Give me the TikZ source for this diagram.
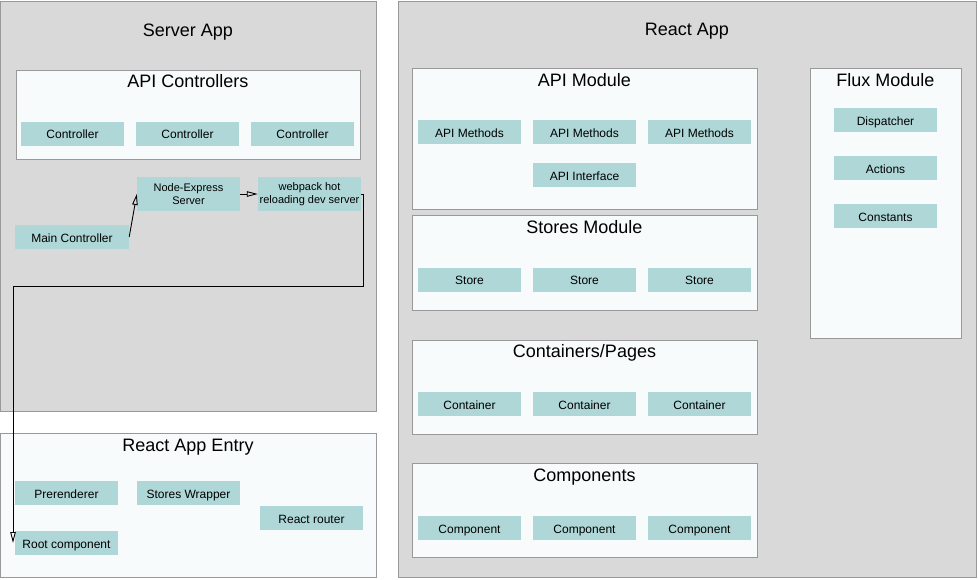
\documentclass[tikz,border=0pt]{standalone}
\usepackage{fontspec}
\setmainfont{Liberation Sans}
\usetikzlibrary{arrows.meta}
\definecolor{panelgray}{HTML}{D9D9D9}
\definecolor{panelline}{HTML}{999999}
\definecolor{modfill}{HTML}{F7FBFB}
\definecolor{itemfill}{HTML}{AFD7D7}
\tikzset{
  panel/.style={draw=panelline, line width=1pt, fill=panelgray},
  module/.style={draw=panelline, line width=1pt, fill=modfill},
  % titles are placed by their baseline
  ttl/.style={font=\fontsize{18}{20}\selectfont, inner sep=0pt, anchor=base},
  boxbase/.style={fill=itemfill, draw=none, minimum width=103,
    inner sep=1pt, align=center},
  item/.style={boxbase, minimum height=24, text height=10pt, text depth=0pt,
    font=\fontsize{12}{14}\selectfont},
  smallitem/.style={boxbase, minimum height=34, font=\fontsize{11}{12.5}\selectfont},
  arr/.style={draw=black, line width=0.9pt,
    -{Triangle[open, length=11pt, width=5.5pt]}},
}
\begin{document}
\begin{tikzpicture}[x=1pt, y=-1pt]
\useasboundingbox (0,0) rectangle (978,579);

% ---------- Server side ----------
\path[panel] (0.5,1) rectangle (376,411);
\node[ttl] (serverT) at (188,36) {Server App};

\path[module] (16,70) rectangle (360,159);
\node[ttl] (apictlT) at (188,87) {API Controllers};
\node[item] (ctl1) at (72.5,133.5) {Controller};
\node[item] (ctl2) at (187.5,133.5) {Controller};
\node[item] (ctl3) at (302.5,133.5) {Controller};

\node[smallitem] (ne)  at (188.5,194) {Node-Express\\Server};
\node[smallitem] (web) at (309.5,194) {webpack hot\\reloading dev server};
\node[item, minimum width=114] (main) at (72,237) {Main Controller};

% ---------- React app entry ----------
\path[module] (0.5,433) rectangle (376,577);
\node[ttl] (entryT) at (188,451.5) {React App Entry};
\node[item] (pre)    at (66.5,493)  {Prerenderer};
\node[item] (sw)     at (188.5,493) {Stores Wrapper};
\node[item] (router) at (311.5,518) {React router};
\node[item] (root)   at (66.5,543)  {Root component};

% ---------- React app ----------
\path[panel] (398,1) rectangle (976,577);
\node[ttl] (reactT) at (687,35.5) {React App};

\path[module] (412,68) rectangle (757,209);
\node[ttl] (apimT) at (584.5,86.5) {API Module};
\node[item] (am1) at (469.5,132) {API Methods};
\node[item] (am2) at (584.5,132) {API Methods};
\node[item] (am3) at (699.5,132) {API Methods};
\node[item] (ai)  at (584.5,175) {API Interface};

\path[module] (412,215) rectangle (757,310);
\node[ttl] (storesT) at (584.5,233.5) {Stores Module};
\node[item] (st1) at (469.5,279.5) {Store};
\node[item] (st2) at (584.5,279.5) {Store};
\node[item] (st3) at (699.5,279.5) {Store};

\path[module] (412,340) rectangle (757,434);
\node[ttl] (contT) at (584.5,357.5) {Containers/Pages};
\node[item] (co1) at (469.5,404) {Container};
\node[item] (co2) at (584.5,404) {Container};
\node[item] (co3) at (699.5,404) {Container};

\path[module] (412,463) rectangle (757,557);
\node[ttl] (compT) at (584.5,481.5) {Components};
\node[item] (cp1) at (469.5,528) {Component};
\node[item] (cp2) at (584.5,528) {Component};
\node[item] (cp3) at (699.5,528) {Component};

\path[module] (810,68) rectangle (961,338);
\node[ttl] (fluxT) at (885.5,86.5) {Flux Module};
\node[item] (disp)  at (885.5,120) {Dispatcher};
\node[item] (act)   at (885.5,168) {Actions};
\node[item] (const) at (885.5,216) {Constants};

% ---------- Connectors ----------
\draw[arr] (main.east) -- (ne.west);
\draw[arr] (ne.east) -- (web.west);
\coordinate (bendA) at (363,286);
\coordinate (bendB) at (13,286);
\coordinate (rootIn) at (13,543);
\draw[arr] (web.east) -| (bendA) -- (bendB) -- (rootIn);
\end{tikzpicture}
\end{document}
